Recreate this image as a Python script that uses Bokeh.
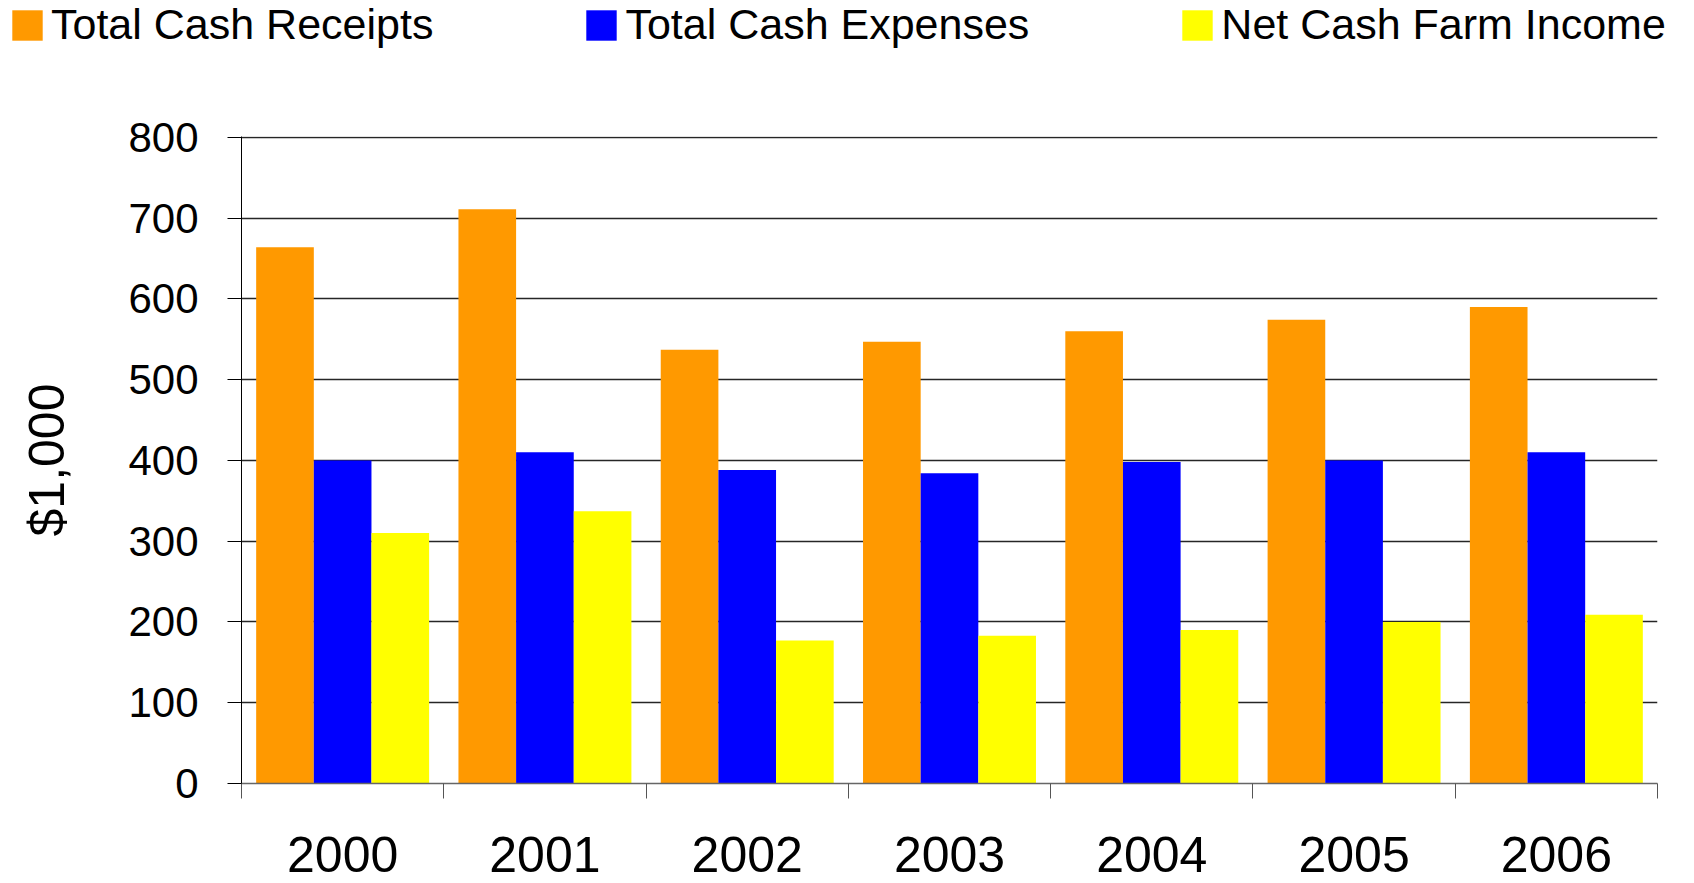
from bokeh.plotting import figure
from bokeh.layouts import column
from bokeh.models import (Range1d, FixedTicker, Legend, LegendItem, ColumnDataSource)
from bokeh.transform import dodge
from bokeh.embed import file_html
from bokeh.resources import INLINE

# ---- data ----
years = ["2000", "2001", "2002", "2003", "2004", "2005", "2006"]
total_cash_receipts = [664, 711, 537, 547, 560, 574, 590]
total_cash_expenses = [400, 410, 388, 384, 398, 400, 410]
net_cash_farm_income = [310, 337, 177, 183, 190, 200, 209]
series_names = ["Total Cash Receipts", "Total Cash Expenses", "Net Cash Farm Income"]
series_keys = ["receipts", "expenses", "net"]
series_colors = ["#FF9900", "#0000FF", "#FFFF00"]
y_ticks = [0, 100, 200, 300, 400, 500, 600, 700, 800]
y_axis_title = "$1,000"

FONT = "Liberation Sans"
W = 1694
LEG_H = 60
MAIN_H = 823

n = len(years)
centers = [i + 0.5 for i in range(n)]      # category slot centres
bounds = list(range(n + 1))                 # category slot boundaries

src = ColumnDataSource(dict(xc=centers, receipts=total_cash_receipts,
                            expenses=total_cash_expenses, net=net_cash_farm_income))

bar_w = 0.285
offsets = [-bar_w, 0.0, bar_w]

# ---------------- main chart ----------------
p = figure(x_range=Range1d(0, n), y_range=Range1d(0, 801),
           width=W, height=MAIN_H, output_backend="svg", toolbar_location=None,
           min_border_left=241, min_border_right=37, min_border_top=76,
           min_border_bottom=100)
p.frame_align = False
p.outline_line_color = None
p.background_fill_color = "white"
p.border_fill_color = "white"

for key, off, col in zip(series_keys, offsets, series_colors):
    p.vbar(x=dodge("xc", off), top=key, width=bar_w,
           source=src, fill_color=col, line_color=None)

ya = p.yaxis[0]
ya.ticker = FixedTicker(ticks=y_ticks)
ya.minor_tick_line_color = None
ya.major_tick_out = 14
ya.major_tick_in = 0
ya.major_tick_line_color = "black"
ya.axis_line_color = "black"
ya.major_label_standoff = 29
ya.major_label_text_font = FONT
ya.major_label_text_font_size = "42px"
ya.major_label_text_color = "black"
ya.axis_label = y_axis_title
ya.axis_label_text_font = FONT
ya.axis_label_text_font_size = "50px"
ya.axis_label_text_font_style = "normal"
ya.axis_label_text_color = "black"
ya.axis_label_standoff = 50

p.ygrid.grid_line_color = "#262626"
p.ygrid.grid_line_width = 1.3
p.xgrid.grid_line_color = None

# x axis: labels at category centres, tick marks at category boundaries
xa = p.xaxis[0]
xa.ticker = FixedTicker(ticks=centers, minor_ticks=bounds)
xa.major_label_overrides = {c: y for c, y in zip(centers, years)}
xa.major_tick_out = 0
xa.major_tick_in = 0
xa.minor_tick_out = 15
xa.minor_tick_in = 0
xa.minor_tick_line_color = "#555555"
xa.axis_line_color = "#666666"
xa.axis_line_width = 1.3
xa.major_label_standoff = 38
xa.major_label_text_font = FONT
xa.major_label_text_font_size = "50px"
xa.major_label_text_color = "black"

# ---------------- legend strip ----------------
lf = figure(x_range=Range1d(0, n), y_range=Range1d(1000, 1001),
            width=W, height=LEG_H, output_backend="svg", toolbar_location=None,
            x_axis_location=None, y_axis_location=None,
            min_border_left=0, min_border_right=0, min_border_top=0, min_border_bottom=0)
lf.frame_align = False
lf.outline_line_color = None
lf.xgrid.visible = False
lf.ygrid.visible = False
leg_renderers = []
for key, off, col in zip(series_keys, offsets, series_colors):
    r = lf.vbar(x=dodge("xc", off), top=key, width=bar_w,
                source=src, fill_color=col, line_color=None)
    leg_renderers.append(r)

legend = Legend(items=[LegendItem(label=nm, renderers=[r]) for nm, r in zip(series_names, leg_renderers)],
                location=(8, 11), orientation="horizontal",
                label_text_font=FONT, label_text_font_size="43px",
                label_text_color="black",
                glyph_width=38, glyph_height=38, label_standoff=5, spacing=149,
                padding=0, margin=0, border_line_color=None,
                background_fill_alpha=0)
lf.add_layout(legend, "center")

layout = column(lf, p, spacing=0)
open("out.html", "w").write(file_html(layout, INLINE))
